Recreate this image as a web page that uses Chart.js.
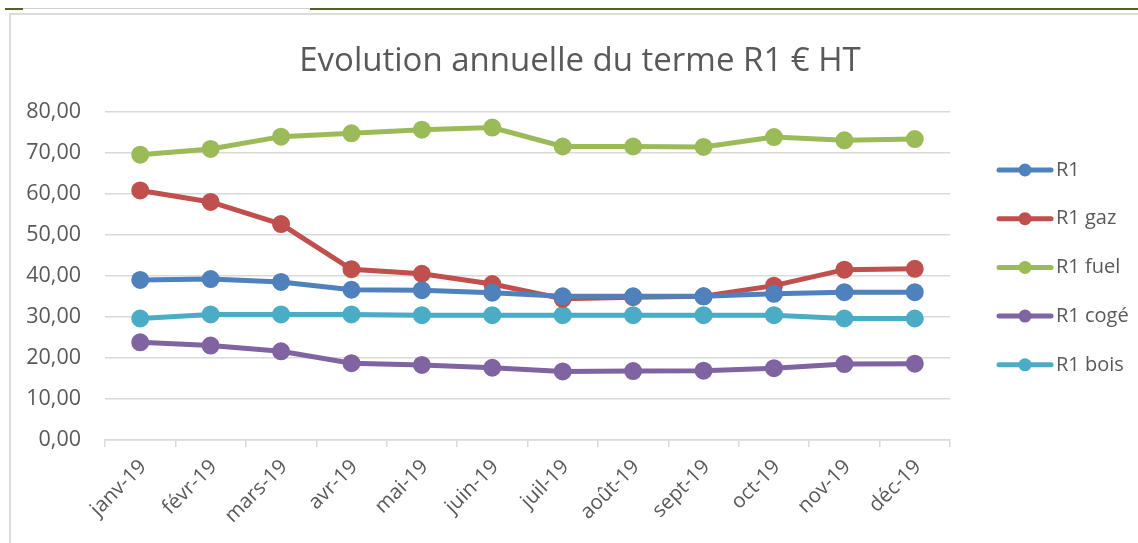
<!DOCTYPE html>
<html>
<head>
<meta charset="utf-8">
<script src="https://cdn.jsdelivr.net/npm/chart.js@4"></script>
<style>
  html, body { margin: 0; padding: 0; background: #fff; }
  #wrap { position: relative; width: 1138px; height: 543px; overflow: hidden; }
  #chart { position: absolute; left: 0; top: 0; }
  .bar { position: absolute; }
</style>
</head>
<body>
<div id="wrap">
  <canvas id="chart" width="1138" height="543"></canvas>
  <!-- page header rules and the chart frame -->
  <div class="bar" style="left:5px;top:8px;width:18px;height:2px;background:#4f6228"></div>
  <div class="bar" style="left:23px;top:8px;width:287px;height:1px;background:#d0d0d0"></div>
  <div class="bar" style="left:310px;top:8px;width:828px;height:2px;background:#4f6228"></div>
  <div class="bar" style="left:9px;top:13px;width:1129px;height:2px;background:#dcdcdc"></div>
  <div class="bar" style="left:9px;top:13px;width:2px;height:530px;background:#dcdcdc"></div>
</div>
<script>
// --- Data ---
const months = ['janv-19', 'févr-19', 'mars-19', 'avr-19', 'mai-19', 'juin-19',
                'juil-19', 'août-19', 'sept-19', 'oct-19', 'nov-19', 'déc-19'];
const r1     = [39.0, 39.2, 38.5, 36.6, 36.5, 35.9, 35.0, 35.0, 35.0, 35.6, 36.0, 36.0];
const r1Gaz  = [60.8, 58.0, 52.6, 41.6, 40.5, 38.0, 34.4, 34.8, 35.0, 37.6, 41.5, 41.7];
const r1Fuel = [69.5, 70.9, 73.9, 74.7, 75.6, 76.1, 71.5, 71.5, 71.4, 73.8, 73.0, 73.3];
const r1Coge = [23.8, 23.0, 21.6, 18.7, 18.3, 17.6, 16.7, 16.8, 16.9, 17.5, 18.5, 18.6];
const r1Bois = [29.6, 30.6, 30.6, 30.6, 30.4, 30.4, 30.4, 30.4, 30.4, 30.4, 29.6, 29.6];
const yTicks = [0, 10, 20, 30, 40, 50, 60, 70, 80];

const FONT = "'Open Sans', 'Liberation Sans', sans-serif";
const GREY_TEXT = '#595959';
const GRID = '#d9d9d9';

function fmt(v) {
  return v.toFixed(2).replace('.', ',');
}

function series(label, data, color) {
  return {
    label: label, data: data,
    borderColor: color, backgroundColor: color,
    pointBackgroundColor: color, pointBorderColor: color,
    borderWidth: 5, pointRadius: 6.5, pointHoverRadius: 6.5,
    tension: 0
  };
}

// Legend on the right: short line with a dot, then the name
const sideLegend = {
  id: 'sideLegend',
  afterDraw(chart) {
    const ctx = chart.ctx;
    ctx.save();
    chart.data.datasets.forEach((ds, i) => {
      const y = 170 + i * 48.7;
      ctx.strokeStyle = ds.borderColor;
      ctx.lineWidth = 5;
      ctx.lineCap = 'round';
      ctx.beginPath();
      ctx.moveTo(999, y);
      ctx.lineTo(1051, y);
      ctx.stroke();
      ctx.fillStyle = ds.borderColor;
      ctx.beginPath();
      ctx.arc(1025, y, 6.5, 0, Math.PI * 2);
      ctx.fill();
      ctx.fillStyle = GREY_TEXT;
      ctx.font = '20px ' + FONT;
      ctx.textBaseline = 'middle';
      ctx.textAlign = 'left';
      ctx.fillText(ds.label, 1056, y);
    });
    ctx.restore();
  }
};

const ctx = document.getElementById('chart').getContext('2d');
new Chart(ctx, {
  type: 'line',
  data: {
    labels: months,
    datasets: [
      series('R1', r1, '#4f81bd'),
      series('R1 gaz', r1Gaz, '#c0504d'),
      series('R1 fuel', r1Fuel, '#9bbb59'),
      series('R1 cogé', r1Coge, '#8064a2'),
      series('R1 bois', r1Bois, '#4bacc6')
    ]
  },
  options: {
    responsive: false,
    animation: false,
    layout: { padding: { left: 22, right: 0, top: 0, bottom: 0 } },
    scales: {
      x: {
        offset: true,
        grid: { offset: true, drawOnChartArea: false, color: GRID, lineWidth: 1.5, tickLength: 7 },
        border: { color: GRID, width: 1.5 },
        ticks: {
          color: GREY_TEXT, font: { family: FONT, size: 20.5 },
          minRotation: 45, maxRotation: 45, padding: 8, labelOffset: 3, autoSkip: false
        },
        afterFit: s => { s.height = 103; }
      },
      y: {
        min: 0, max: 80,
        afterBuildTicks: s => { s.ticks = yTicks.map(v => ({ value: v })); },
        grid: { color: GRID, lineWidth: 1.5, drawTicks: false },
        border: { display: false },
        ticks: {
          color: GREY_TEXT, font: { family: FONT, size: 21.5 }, padding: 24,
          callback: v => fmt(v)
        },
        afterFit: s => { s.width = 83; }
      },
      // empty right-hand scale: reserves the room where the legend sits
      side: {
        position: 'right',
        grid: { display: false },
        border: { display: false },
        ticks: { display: false },
        afterFit: s => { s.width = 188; }
      }
    },
    plugins: {
      legend: { display: false },
      tooltip: { enabled: false },
      title: {
        display: true,
        text: 'Evolution annuelle du terme R1 € HT',
        color: GREY_TEXT,
        font: { family: FONT, size: 33, weight: 'normal' },
        padding: { top: 42, bottom: 30 }
      }
    }
  },
  plugins: [sideLegend]
});
</script>
</body>
</html>
